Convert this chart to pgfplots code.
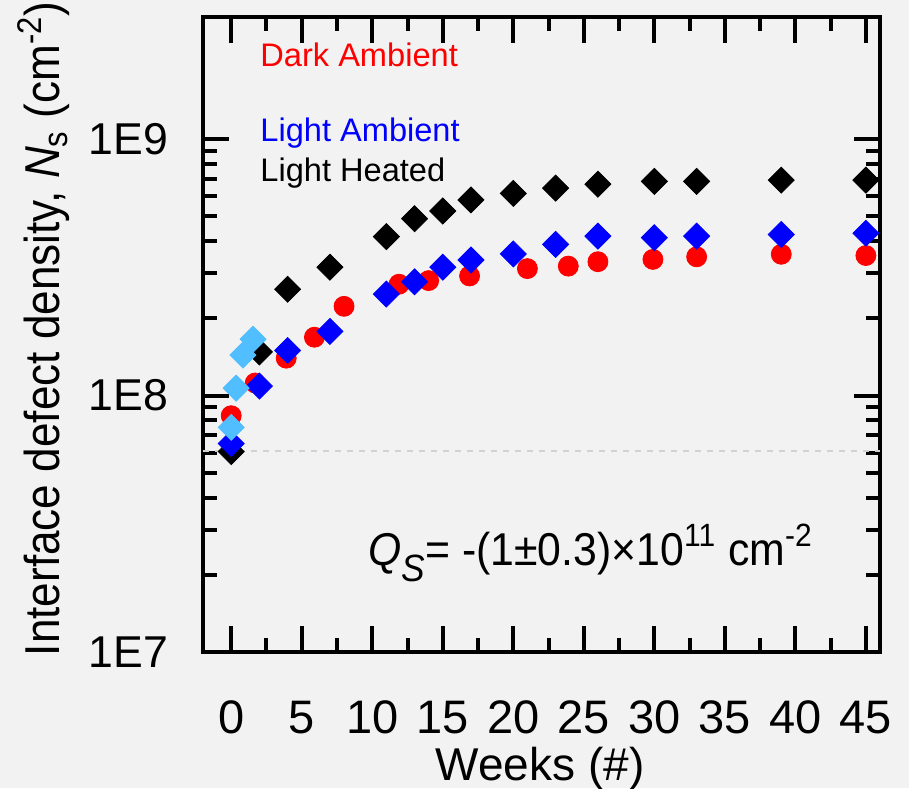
\documentclass[border=0pt]{standalone}
\usepackage{fontspec}
\setmainfont{Liberation Sans}
\usepackage{pgfplots}
\pgfplotsset{compat=1.18}
\definecolor{bgcol}{RGB}{242,242,242}
\definecolor{lblue}{RGB}{80,190,255}
\definecolor{pblue}{RGB}{0,0,255}
\definecolor{pred}{RGB}{255,0,0}
\begin{document}
\begin{tikzpicture}
\fill[bgcol] (-101.5pt,-68pt) rectangle (353pt,326pt);
\begin{axis}[
  at={(0,0)}, anchor=south west,
  scale only axis, width=338.5pt, height=317.5pt,
  xmin=-2, xmax=46, ymode=log, ymin=1e7, ymax=3e9,
  xtick={0,5,...,45}, minor x tick num=1,
  ytick={1e7,1e8,1e9}, yticklabels={1E7,1E8,1E9},
  tick align=inside,
  major tick length=13pt, minor tick length=7pt,
  every tick/.style={black, line width=2pt},
  axis line style={line width=2pt},
  /pgf/number format/assume math mode=true,
  yticklabel style={font=\fontsize{22.3}{26}\selectfont, xshift=-14pt},
  xticklabel style={font=\fontsize{23.5}{27}\selectfont, yshift=-21pt},
  clip=false,
]
\addplot[only marks, mark=square*, mark size=4.6pt, mark options={rotate=45, fill=black, draw=black}] coordinates {
(0,6.05e7) (2,1.48e8) (4,2.6e8) (7,3.17e8) (11,4.17e8) (13,4.9e8) (15,5.25e8) (17,5.8e8) (20,6.15e8) (23,6.45e8) (26,6.68e8) (30,6.85e8) (33,6.85e8) (39,6.93e8) (45,6.93e8)};
\addplot[gray!35, dashed, line width=1pt] coordinates {(-2,6.1e7) (46,6.1e7)};
\addplot[only marks, mark=*, mark size=5pt, mark options={fill=pred, draw=pred}] coordinates {
(0,8.35e7) (1.7,1.12e8) (3.9,1.40e8) (5.9,1.69e8) (8,2.23e8) (11.9,2.72e8) (14,2.81e8) (16.9,2.93e8) (21,3.13e8) (23.9,3.2e8) (26,3.33e8) (29.9,3.40e8) (33,3.48e8) (39,3.56e8) (45,3.52e8)};
\addplot[only marks, mark=square*, mark size=4.6pt, mark options={rotate=45, fill=pblue, draw=pblue}] coordinates {
(0,6.5e7) (2,1.09e8) (4,1.5e8) (7,1.78e8) (11,2.49e8) (13,2.78e8) (15,3.17e8) (17,3.38e8) (20,3.57e8) (23,3.89e8) (26,4.19e8) (30,4.13e8) (33,4.19e8) (39,4.25e8) (45,4.3e8)};
\addplot[only marks, mark=square*, mark size=4.6pt, mark options={rotate=45, fill=lblue, draw=lblue}] coordinates {
(0,7.52e7) (0.35,1.07e8) (0.83,1.44e8) (1.55,1.66e8)};
\end{axis}
\node[anchor=base west, inner sep=0pt, text=pred, font=\fontsize{16.3}{19}\selectfont] at (28.5pt,292.6pt) {Dark Ambient};
\node[anchor=base west, inner sep=0pt, text=pblue, font=\fontsize{16.3}{19}\selectfont] at (28.5pt,255.1pt) {Light Ambient};
\node[anchor=base west, inner sep=0pt, text=black, font=\fontsize{16.3}{19}\selectfont] at (28.5pt,235.1pt) {Light Heated};
\node[anchor=base west, inner sep=0pt, font=\fontsize{23}{27}\selectfont] at (82.5pt,43.5pt) {\scalebox{0.93}[1]{\textit{Q}\raisebox{-0.35em}{\fontsize{19}{21}\selectfont\textit{S}}= -(1±0.3)×10\textsuperscript{11} cm\textsuperscript{-2}}};
\node[anchor=base, inner sep=0pt, font=\fontsize{23}{27}\selectfont] at (168.5pt,-64pt) {Weeks (\#)};
\node[anchor=base, rotate=90, inner sep=0pt, font=\fontsize{24.5}{28}\selectfont] at (-71.5pt,161.5pt) {\scalebox{0.9}[1]{Interface defect density, \textit{N}\textsubscript{s} (cm\textsuperscript{-2})}};
\pgfresetboundingbox
\path[use as bounding box] (-101.5pt,-68pt) rectangle (353pt,326pt);
\end{tikzpicture}
\end{document}
